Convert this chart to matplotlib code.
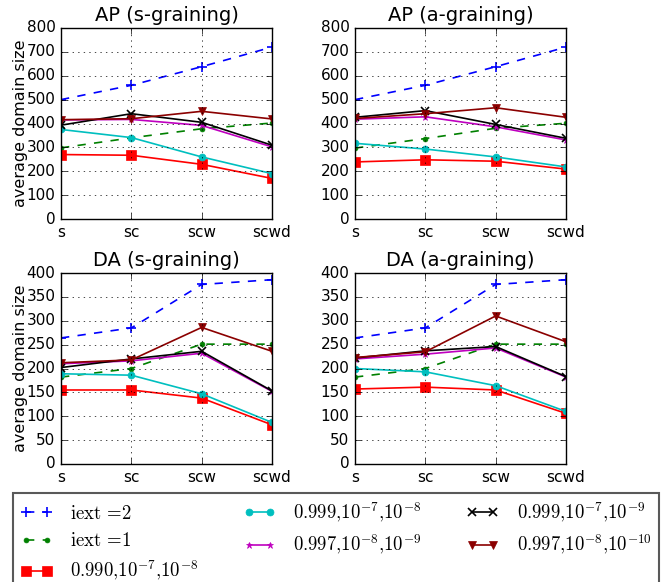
import matplotlib
matplotlib.use("Agg")
import matplotlib.pyplot as plt

plt.style.use("classic")
plt.rcParams["mathtext.fontset"] = "cm"
plt.rcParams["figure.facecolor"] = "white"
plt.rcParams["savefig.facecolor"] = "white"

stages = ["s", "sc", "scw", "scwd"]

labels = [r"$\mathrm{iext}\,=\!2$", r"$\mathrm{iext}\,=\!1$",
          r"$0.990{,}10^{-7}{,}10^{-8}$", r"$0.999{,}10^{-7}{,}10^{-8}$",
          r"$0.997{,}10^{-8}{,}10^{-9}$", r"$0.999{,}10^{-7}{,}10^{-9}$",
          r"$0.997{,}10^{-8}{,}10^{-10}$"]

# AP, s-graining
ap_s = [
    [500, 560, 638, 720],
    [298, 340, 378, 402],
    [270, 267, 229, 170],
    [375, 341, 260, 190],
    [415, 417, 392, 302],
    [393, 441, 405, 309],
    [416, 420, 451, 419],
]
# AP, a-graining
ap_a = [
    [500, 560, 638, 720],
    [297, 337, 380, 401],
    [239, 248, 242, 209],
    [317, 293, 260, 218],
    [418, 428, 386, 331],
    [426, 454, 396, 338],
    [421, 441, 466, 426],
]
# DA, s-graining
da_s = [
    [264, 285, 376, 386],
    [182, 200, 251, 251],
    [155, 155, 138, 82],
    [189, 186, 147, 87],
    [210, 216, 232, 152],
    [202, 220, 236, 153],
    [212, 218, 286, 236],
]
# DA, a-graining
da_a = [
    [264, 285, 376, 386],
    [182, 200, 251, 251],
    [157, 161, 155, 106],
    [200, 193, 164, 110],
    [220, 230, 243, 182],
    [222, 237, 246, 183],
    [223, 235, 310, 256],
]

styles = [
    dict(color="b", ls="--", marker="+", ms=7, mew=1.2),
    dict(color="g", ls="--", marker=".", ms=7),
    dict(color="r", ls="-", marker="s", ms=7, mec="r"),
    dict(color="c", ls="-", marker="o", ms=5, mec="c"),
    dict(color="m", ls="-", marker="*", ms=5, mec="m"),
    dict(color="k", ls="-", marker="x", ms=6, mew=1.2),
    dict(color="darkred", ls="-", marker="v", ms=6, mec="darkred"),
]

fig = plt.figure(figsize=(6.62, 5.82), dpi=100)
W, H = 662.0, 582.0
panels = [
    ("AP (s-graining)", ap_s, (61, 28), 800, 100),
    ("AP (a-graining)", ap_a, (355, 28), 800, 100),
    ("DA (s-graining)", da_s, (61, 273), 400, 50),
    ("DA (a-graining)", da_a, (355, 273), 400, 50),
]
x = list(range(len(stages)))
for title, data, (px, py), ymax, step in panels:
    ax = fig.add_axes([px / W, 1 - (py + 191) / H, 211 / W, 191 / H])
    for vals, st in zip(data, styles):
        ax.plot(x, vals, lw=1.2, **st)
    ax.set_xlim(0, 3)
    ax.set_ylim(0, ymax)
    ax.set_yticks(range(0, ymax + 1, step))
    ax.set_xticks(x)
    ax.set_xticklabels(stages)
    ax.grid(True, ls=":", color="k")
    ax.set_title(title, fontsize=14)
    ax.tick_params(labelsize=11)
    if px < 100:
        ax.set_ylabel("average domain size", fontsize=11.5, labelpad=-1)

handles = fig.axes[0].get_lines()
leg = fig.legend(handles, labels, loc="upper left", ncol=3, mode="expand",
                 bbox_to_anchor=(13 / W, -0.2, 646 / W, 0.2 + 1 - 493 / H),
                 borderaxespad=0, fontsize=13.5, labelspacing=0.45,
                 handlelength=1.7, handletextpad=0.95, numpoints=2,
                 frameon=True)
leg.get_frame().set_edgecolor("0.35")
leg.get_frame().set_linewidth(1.5)

fig.savefig("out.png", dpi=100)
